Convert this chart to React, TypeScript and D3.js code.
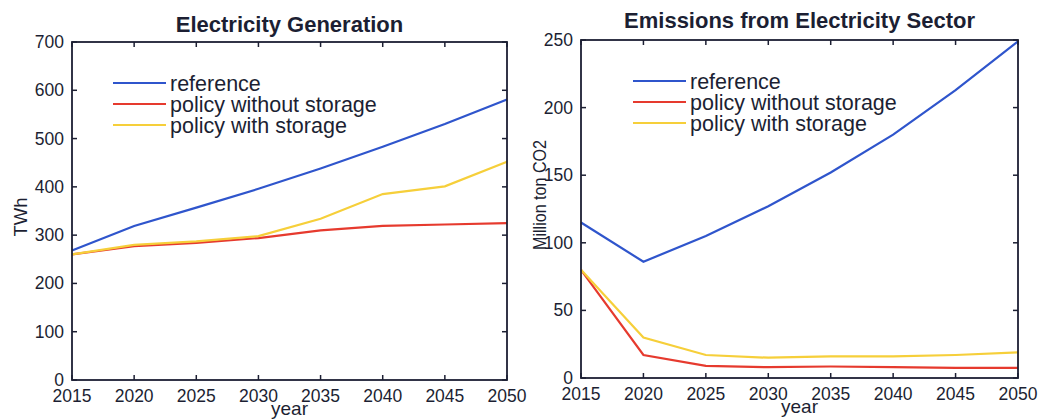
import * as d3 from "d3";
import React from "react";

const years = [2015, 2020, 2025, 2030, 2035, 2040, 2045, 2050];

// Electricity generation, TWh
const genReference = [268, 319, 357, 396, 438, 483, 530, 581];
const genNoStorage = [260, 277, 284, 294, 310, 319, 322, 325];
const genWithStorage = [260, 280, 287, 298, 334, 385, 401, 452];

// Emissions, million ton CO2
const emiReference = [115, 86, 105, 127, 152, 180, 213, 249];
const emiNoStorage = [80, 17, 9, 8, 8.5, 8, 7.5, 7.5];
const emiWithStorage = [80, 30, 17, 15, 16, 16, 17, 19];

const seriesNames = ["reference", "policy without storage", "policy with storage"];
const seriesColors = ["#2f55cc", "#e63a2e", "#f6cf3a"];

const genTicks = [0, 100, 200, 300, 400, 500, 600, 700];
const emiTicks = [0, 50, 100, 150, 200, 250];

const ink = "#1c1f33";
const font = "'Liberation Sans', Arial, Helvetica, sans-serif";

interface PanelProps {
  left: number;
  right: number;
  top: number;
  bottom: number;
  title: string;
  titleY: number;
  ylabel: string;
  ylabelX: number;
  ylabelY: number;
  ylabelLen?: number;
  yMax: number;
  yTicks: number[];
  series: number[][];
  legendX: number;
  legendY: number;
}

const Panel = (p: PanelProps) => {
  const x = d3.scaleLinear().domain([2015, 2050]).range([p.left, p.right]);
  const y = d3.scaleLinear().domain([0, p.yMax]).range([p.bottom, p.top]);
  const line = d3
    .line<number>()
    .x((_, i) => x(years[i]))
    .y((d) => y(d));
  const tk = 5;
  const midX = (p.left + p.right) / 2;

  return (
    <g fontFamily={font} fill={ink}>
      <text x={midX} y={p.titleY} textAnchor="middle" fontSize={22} fontWeight="bold">
        {p.title}
      </text>

      {p.series.map((s, i) => (
        <path key={i} d={line(s) || ""} fill="none" stroke={seriesColors[i]} strokeWidth={2.2} />
      ))}

      <rect x={p.left} y={p.top} width={p.right - p.left} height={p.bottom - p.top}
        fill="none" stroke={ink} strokeWidth={1.8} />

      {years.map((yr) => (
        <g key={yr}>
          <line x1={x(yr)} x2={x(yr)} y1={p.bottom} y2={p.bottom - tk} stroke={ink} strokeWidth={1.5} />
          <line x1={x(yr)} x2={x(yr)} y1={p.top} y2={p.top + tk} stroke={ink} strokeWidth={1.5} />
          <text x={x(yr)} y={p.bottom + 22} textAnchor="middle" fontSize={17.5}>{yr}</text>
        </g>
      ))}

      {p.yTicks.map((t) => (
        <g key={t}>
          <line x1={p.left} x2={p.left + tk} y1={y(t)} y2={y(t)} stroke={ink} strokeWidth={1.5} />
          <line x1={p.right} x2={p.right - tk} y1={y(t)} y2={y(t)} stroke={ink} strokeWidth={1.5} />
          <text x={p.left - 8} y={y(t) + 6} textAnchor="end" fontSize={17.5}>{t}</text>
        </g>
      ))}

      <text x={midX} y={p.bottom + 35} textAnchor="middle" fontSize={19}>year</text>
      <text
        transform={`translate(${p.ylabelX},${p.ylabelY}) rotate(-90)`}
        textAnchor="middle"
        fontSize={18.5}
        textLength={p.ylabelLen}
        lengthAdjust={p.ylabelLen ? "spacingAndGlyphs" : undefined}
      >
        {p.ylabel}
      </text>

      {seriesNames.map((n, i) => (
        <g key={n} transform={`translate(${p.legendX},${p.legendY + i * 21})`}>
          <line x1={0} x2={53} y1={0} y2={0} stroke={seriesColors[i]} strokeWidth={2} />
          <text x={57} y={7.5} fontSize={21.5}>{n}</text>
        </g>
      ))}
    </g>
  );
};

export default function App() {
  return (
    <svg width={1038} height={419} style={{ display: "block", position: "absolute", left: 0, top: 0 }}>
      <rect width={1038} height={419} fill="#ffffff" />
      <Panel
        left={72} right={507} top={42} bottom={380}
        title="Electricity Generation" titleY={32}
        ylabel="TWh" ylabelX={27} ylabelY={217}
        yMax={700} yTicks={genTicks}
        series={[genReference, genNoStorage, genWithStorage]}
        legendX={113} legendY={83}
      />
      <Panel
        left={581} right={1018} top={40} bottom={378}
        title="Emissions from Electricity Sector" titleY={28}
        ylabel="Million ton CO2" ylabelX={546} ylabelY={195} ylabelLen={110}
        yMax={250} yTicks={emiTicks}
        series={[emiReference, emiNoStorage, emiWithStorage]}
        legendX={633} legendY={81}
      />
    </svg>
  );
}
